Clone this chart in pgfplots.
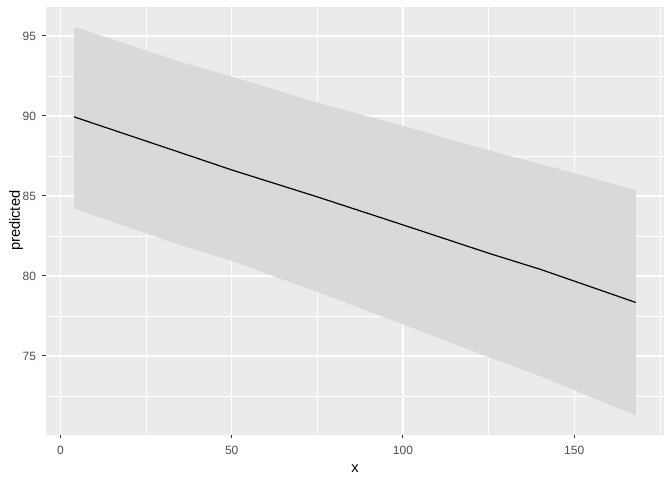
\documentclass[border=0pt]{standalone}
\usepackage{pgfplots}
\pgfplotsset{compat=1.18}
\usepackage{fontspec}
\setmainfont{Liberation Sans}
\definecolor{ggpanel}{RGB}{235,235,235}
\definecolor{ggribbon}{RGB}{217,217,217}
\definecolor{ggtext}{RGB}{77,77,77}
\definecolor{ggtick}{RGB}{51,51,51}
\begin{document}
\begin{tikzpicture}
\begin{axis}[
  name=ax,
  scale only axis,
  width=463.5pt, height=320.8pt,
  xmin=-4.2, xmax=176.2,
  ymin=70.08, ymax=96.81,
  xtick={0,50,100,150},
  ytick={75,80,85,90,95},
  minor xtick={25,75,125,175},
  minor ytick={72.5,77.5,82.5,87.5,92.5},
  grid=both,
  major grid style={white, line width=1.07pt},
  minor grid style={white, line width=0.53pt},
  axis background/.style={fill=ggpanel},
  axis line style={draw=none},
  tick align=outside,
  major tick length=2.75pt,
  minor tick length=0pt,
  tick style={ggtick, line width=0.8pt},
  xtick pos=bottom, ytick pos=left,
  /pgf/number format/assume math mode=true,
  ticklabel style={font=\fontsize{9}{10}\selectfont, text=ggtext},
  xticklabel style={yshift=-2.5pt},
  yticklabel style={xshift=-1.2pt},
  xlabel={x}, ylabel={predicted},
  label style={font=\fontsize{11}{13}\selectfont, text=black},
  xlabel style={yshift=-0.5pt},
  ylabel style={yshift=-7pt},
  clip=true,
]
\addplot[fill=ggribbon, draw=none] coordinates {
  (4,95.58) (35,93.375) (50,92.46) (75,90.83) (100,89.375) (125,87.85) (140,87.0) (168,85.375)
  (168,71.27) (140,73.75) (125,74.92) (100,76.98) (75,79.0) (50,80.94) (35,81.92) (4,84.21)
} --cycle;
\addplot[black, line width=0.9pt] coordinates {
  (4,89.94) (35,87.71) (50,86.625) (75,84.94) (100,83.19) (125,81.42) (140,80.42) (168,78.34)
};
\end{axis}
\pgfresetboundingbox
\path (ax.south west) ++(-34.5pt,-34pt) rectangle ++(504pt,360pt);
\end{tikzpicture}
\end{document}
